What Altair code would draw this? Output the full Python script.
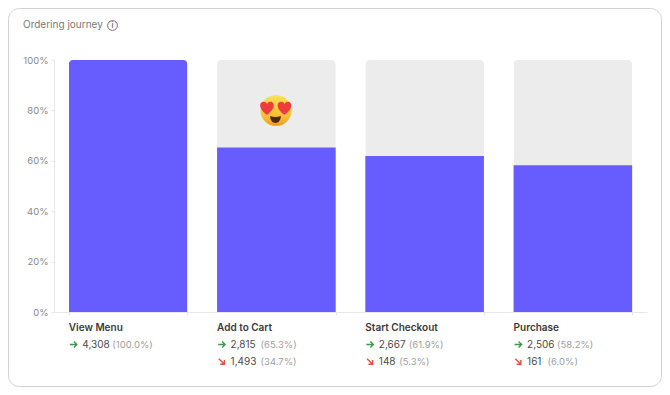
import altair as alt
import pandas as pd

FONT = "Inter"
title_text = "Ordering journey"
categories = ["View Menu", "Add to Cart", "Start Checkout", "Purchase"]
shares = [1.0, 0.653, 0.619, 0.582]
totals = [1.0, 1.0, 1.0, 1.0]
kept_counts = ["4,308", "2,815", "2,667", "2,506"]
kept_pcts = ["(100.0%)", "(65.3%)", "(61.9%)", "(58.2%)"]
lost_cats = ["Add to Cart", "Start Checkout", "Purchase"]
lost_counts = ["1,493", "148", "161"]
lost_pcts = ["(34.7%)", "(5.3%)", "(6.0%)"]

PLOT_W, PLOT_H = 593, 252
one = pd.DataFrame({"k": [0]})
bars = pd.DataFrame({"cat": categories, "share": shares, "total": totals})

x_scale = alt.Scale(domain=categories, paddingInner=0.2, paddingOuter=0.1)
y_scale = alt.Scale(domain=[0, 1])
x_axis = alt.Axis(labels=False, tickBand="extent", tickSize=3, tickColor="#e8e8e8",
                  domainColor="#e8e8e8", grid=False, title=None, zindex=1)
y_axis = alt.Axis(values=[0, .2, .4, .6, .8, 1], format=".0%", tickSize=3, tickColor="#e8e8e8",
                  domainColor="#e8e8e8", grid=False, labelColor="#8a8a8a", labelFont=FONT,
                  labelFontSize=9.5, labelPadding=3, title=None, zindex=1)
X = alt.X("cat:N", scale=x_scale, sort=categories, axis=x_axis)
X_LEFT = alt.X("cat:N", scale=x_scale, sort=categories, bandPosition=0, axis=x_axis)

card = alt.Chart(one).mark_rect(fill="white", stroke="#d2d2d2", strokeWidth=1, cornerRadius=11).encode(
    x=alt.value(-45.5), x2=alt.value(607.5), y=alt.value(-51.5), y2=alt.value(326.5))

back = alt.Chart(bars).mark_bar(color="#ececec", cornerRadiusTopLeft=4, cornerRadiusTopRight=4).encode(
    x=X, y=alt.Y("total:Q", scale=y_scale, axis=y_axis))
front = alt.Chart(pd.DataFrame({"cat": categories[1:], "share": shares[1:]})).mark_bar(color="#675dff").encode(
    x=X, y=alt.Y("share:Q", scale=y_scale, axis=y_axis))
first = alt.Chart(pd.DataFrame({"cat": categories[:1], "share": shares[:1]})).mark_bar(
    color="#675dff", cornerRadiusTopLeft=4, cornerRadiusTopRight=4).encode(
    x=X, y=alt.Y("share:Q", scale=y_scale, axis=y_axis))


def value_text(df, field, y, color, size=10, weight=400, dx=0):
    return alt.Chart(df).mark_text(align="left", baseline="middle", font=FONT, fontSize=size,
                                   fontWeight=weight, color=color, xOffset=dx).encode(
        x=X_LEFT, y=alt.value(y), text=f"{field}:N")


def pct_offset(count):
    digits = sum(ch.isdigit() for ch in count)
    return 16 + 6 * digits + (3.5 if "," in count else 0)


layers = [card, back, front, first]
layers.append(value_text(bars, "cat", 267.5, "#3a3a3a", 10, 600))

ARROW_RIGHT = "M-1,0 L1,0 M0.15,-0.85 L1,0 L0.15,0.85"
ARROW_DOWN = "M-0.8,-0.8 L0.8,0.8 M0.8,-0.4 L0.8,0.8 L-0.4,0.8"
rows = [(categories, kept_counts, kept_pcts, 284.5, ARROW_RIGHT, "#3f9a4c"),
        (lost_cats, lost_counts, lost_pcts, 301.5, ARROW_DOWN, "#e0523f")]
for cats, counts, pcts, y, arrow, col in rows:
    for c, n, p in zip(cats, counts, pcts):
        d = pd.DataFrame({"cat": [c], "n": [n], "p": [p]})
        layers.append(alt.Chart(d).mark_point(shape=arrow, size=49, filled=False, color=col, strokeWidth=1.4,
                                              opacity=1, xOffset=4.5).encode(x=X_LEFT, y=alt.value(y)))
        layers.append(value_text(d, "n", y, "#4a4a4a", 10, 400, 13.5))
        layers.append(value_text(d, "p", y, "#9e9e9e", 9.5, 400, pct_offset(n)))

# header
head = pd.DataFrame({"t": [title_text], "i": ["i"]})
layers.append(alt.Chart(head).mark_text(align="left", baseline="middle", font=FONT, fontSize=10,
                                        color="#7a7a7a").encode(
    x=alt.value(-31), y=alt.value(-35), text="t:N"))
layers.append(alt.Chart(one).mark_point(filled=False, color="#6e6e6e", strokeWidth=1, size=95, shape="circle",
                                        opacity=1).encode(x=alt.value(58.5), y=alt.value(-34.5)))
layers.append(alt.Chart(head).mark_text(align="center", baseline="middle", font=FONT, fontSize=7.5,
                                        fontWeight=600, color="#6e6e6e").encode(
    x=alt.value(58.5), y=alt.value(-34.5), text="i:N"))

# emoji, drawn from marks
HEART = ("M0,0.9 C-1.2,0.05 -1.05,-0.85 -0.45,-0.85 C-0.2,-0.85 -0.05,-0.7 0,-0.5 "
         "C0.05,-0.7 0.2,-0.85 0.45,-0.85 C1.05,-0.85 1.2,0.05 0,0.9 Z")
MOUTH = "M-1,-0.55 C-0.4,-0.3 0.4,-0.3 1,-0.55 C1,0.25 0.55,0.75 0,0.75 C-0.55,0.75 -1,0.25 -1,-0.55 Z"
face_fill = alt.LinearGradient(gradient="linear", x1=0.5, x2=0.5, y1=0, y2=1, stops=[
    alt.GradientStop(color="#fde15a", offset=0),
    alt.GradientStop(color="#f7b92f", offset=0.75),
    alt.GradientStop(color="#ee9a24", offset=1)])
layers.append(alt.Chart(one).mark_point(filled=True, shape="circle", size=960, color=face_fill, opacity=1,
                                        strokeWidth=0).encode(x=alt.value(222), y=alt.value(50.5)))
for hx, hy in [(213, 48), (230.5, 48)]:
    layers.append(alt.Chart(one).mark_point(filled=True, shape=HEART, size=225, color="#ee3b3b", opacity=1,
                                            strokeWidth=0).encode(x=alt.value(hx), y=alt.value(hy)))
layers.append(alt.Chart(one).mark_point(filled=True, shape=MOUTH, size=115, color="#4a2a10", opacity=1,
                                        strokeWidth=0).encode(x=alt.value(221.5), y=alt.value(59)))

chart = alt.layer(*layers).properties(
    width=PLOT_W, height=PLOT_H,
    padding={"left": 46, "top": 52, "right": 15, "bottom": 75},
    autosize=alt.AutoSizeParams(type="none"),
    background="white",
).configure_view(stroke=None)

chart.save("out.html", embed_options={"renderer": "svg", "actions": False})
